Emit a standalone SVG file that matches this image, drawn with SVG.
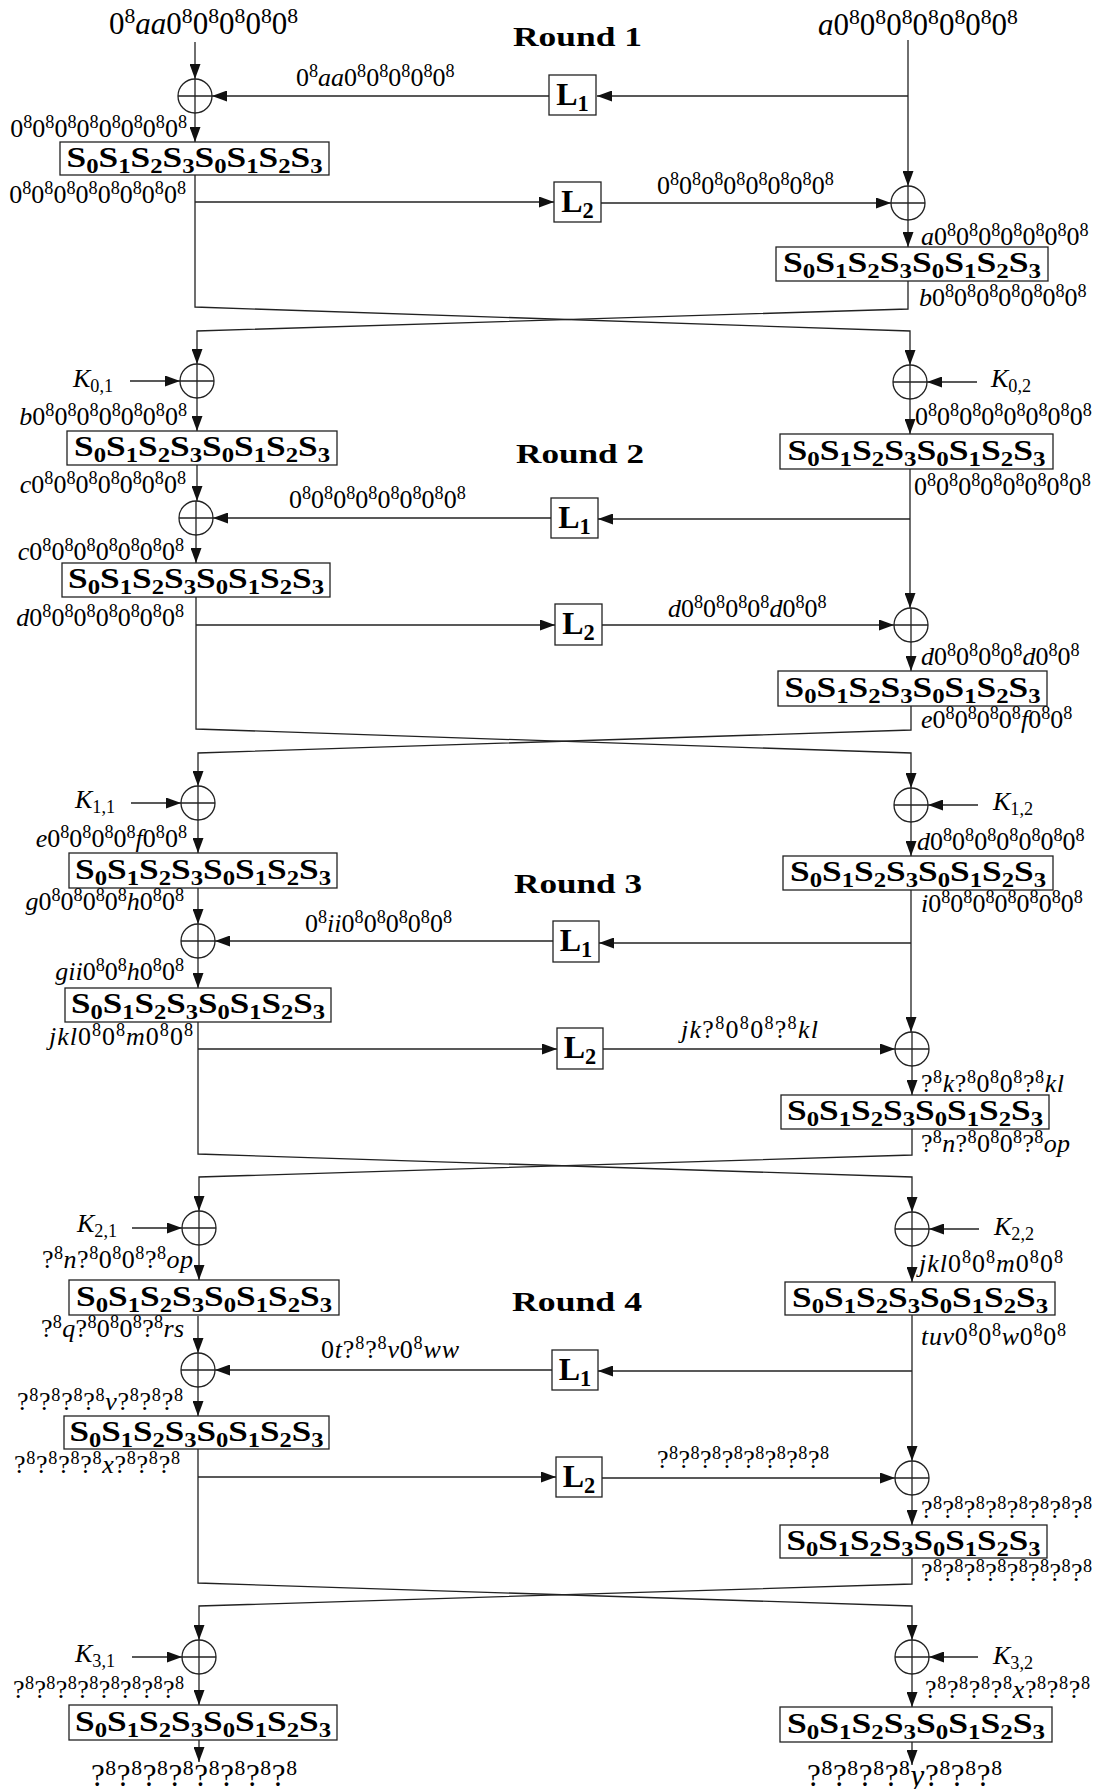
<svg xmlns="http://www.w3.org/2000/svg" xmlns:xlink="http://www.w3.org/1999/xlink" width="1106" height="1789" viewBox="0 0 1106 1789">
<style>
.ln{fill:none;stroke:#222;stroke-width:1.3;marker-end:url(#ah)}
.pl{fill:none;stroke:#222;stroke-width:1.3}
.bx{fill:none;stroke:#222;stroke-width:1.3}
.t{font-family:"Liberation Serif","Times New Roman",serif;fill:#000}
.lb{font-size:26px}
.bg{font-size:31px}
.e{text-anchor:end}
.s{font-size:70%;baseline-shift:0.5em}
.i{font-style:italic}
.sb{font-weight:bold;font-size:30px;text-anchor:middle}
.u{font-size:70%;baseline-shift:-0.28em}
.lx{font-weight:bold;font-size:32px;text-anchor:middle}
.ti{font-weight:bold;font-size:28px}
</style>
<defs>
<marker id="ah" viewBox="0 0 15 11" refX="15" refY="5.5" markerWidth="15" markerHeight="11" markerUnits="userSpaceOnUse" orient="auto"><path d="M0,0L15,5.5L0,11z" fill="#111"/></marker>
<g id="xorsym"><circle r="17" class="pl"/><path d="M-17,0H17M0,-17V17" class="pl"/></g>
</defs>

<!-- round titles -->
<g id="titles" class="t ti">
<text x="513" y="46" textLength="129" lengthAdjust="spacingAndGlyphs">Round 1</text>
<text x="516" y="463" textLength="128" lengthAdjust="spacingAndGlyphs">Round 2</text>
<text x="514" y="893" textLength="128" lengthAdjust="spacingAndGlyphs">Round 3</text>
<text x="512" y="1311" textLength="130" lengthAdjust="spacingAndGlyphs">Round 4</text>
</g>

<!-- connectors -->
<g id="connectors">
<!-- round 1 -->
<path class="ln" d="M195,42V79"/>
<path class="ln" d="M908,40V186"/>
<path class="ln" d="M908,96H597"/>
<path class="ln" d="M549,96H212"/>
<path class="ln" d="M195,113V142"/>
<path class="ln" d="M195,175V307L910,331V365"/>
<path class="ln" d="M195,202H554"/>
<path class="ln" d="M601,203H891"/>
<path class="ln" d="M908,220V247"/>
<path class="ln" d="M908,281V309L197,331V364"/>
<!-- round 2 -->
<path class="ln" d="M130,381H180"/>
<path class="ln" d="M977,382H927"/>
<path class="ln" d="M197,398V431"/>
<path class="ln" d="M197,465V501"/>
<path class="ln" d="M551,518H213"/>
<path class="ln" d="M196,535V563"/>
<path class="ln" d="M196,597V729L911,753V788"/>
<path class="ln" d="M196,625H555"/>
<path class="ln" d="M602,625H894"/>
<path class="ln" d="M910,399V434"/>
<path class="ln" d="M910,469V608"/>
<path class="ln" d="M910,519H598"/>
<path class="ln" d="M911,642V671"/>
<path class="ln" d="M911,706V730L198,753V786"/>
<!-- round 3 -->
<path class="ln" d="M131,803H181"/>
<path class="ln" d="M978,805H928"/>
<path class="ln" d="M198,820V853"/>
<path class="ln" d="M198,888V924"/>
<path class="ln" d="M553,941H215"/>
<path class="ln" d="M198,958V988"/>
<path class="ln" d="M198,1022V1154L912,1177V1212"/>
<path class="ln" d="M198,1049H557"/>
<path class="ln" d="M603,1049H895"/>
<path class="ln" d="M911,822V856"/>
<path class="ln" d="M911,890V1032"/>
<path class="ln" d="M911,943H599"/>
<path class="ln" d="M912,1066V1095"/>
<path class="ln" d="M912,1129V1155L199,1177V1211"/>
<!-- round 4 -->
<path class="ln" d="M132,1228H182"/>
<path class="ln" d="M979,1229H929"/>
<path class="ln" d="M199,1245V1280"/>
<path class="ln" d="M198,1316V1353"/>
<path class="ln" d="M552,1370H215"/>
<path class="ln" d="M198,1387V1416"/>
<path class="ln" d="M198,1449V1583L912,1606V1640"/>
<path class="ln" d="M198,1477H556"/>
<path class="ln" d="M602,1478H895"/>
<path class="ln" d="M912,1246V1282"/>
<path class="ln" d="M912,1315V1461"/>
<path class="ln" d="M912,1371H598"/>
<path class="ln" d="M912,1495V1525"/>
<path class="ln" d="M912,1558V1584L199,1606V1640"/>
<!-- final keys and outputs -->
<path class="ln" d="M132,1657H182"/>
<path class="ln" d="M978,1657H929"/>
<path class="ln" d="M199,1674V1705"/>
<path class="ln" d="M199,1740V1762"/>
<path class="ln" d="M912,1674V1707"/>
<path class="ln" d="M912,1742V1765"/>
</g>

<!-- xor nodes -->
<g id="xor1L"><use xlink:href="#xorsym" x="195" y="96"/></g>
<g id="xor1R"><use xlink:href="#xorsym" x="908" y="203"/></g>
<g id="xor2La"><use xlink:href="#xorsym" x="197" y="381"/></g>
<g id="xor2Lb"><use xlink:href="#xorsym" x="196" y="518"/></g>
<g id="xor2Ra"><use xlink:href="#xorsym" x="910" y="382"/></g>
<g id="xor2Rb"><use xlink:href="#xorsym" x="911" y="625"/></g>
<g id="xor3La"><use xlink:href="#xorsym" x="198" y="803"/></g>
<g id="xor3Lb"><use xlink:href="#xorsym" x="198" y="941"/></g>
<g id="xor3Ra"><use xlink:href="#xorsym" x="911" y="805"/></g>
<g id="xor3Rb"><use xlink:href="#xorsym" x="912" y="1049"/></g>
<g id="xor4La"><use xlink:href="#xorsym" x="199" y="1228"/></g>
<g id="xor4Lb"><use xlink:href="#xorsym" x="198" y="1370"/></g>
<g id="xor4Ra"><use xlink:href="#xorsym" x="912" y="1229"/></g>
<g id="xor4Rb"><use xlink:href="#xorsym" x="912" y="1478"/></g>
<g id="xor5L"><use xlink:href="#xorsym" x="199" y="1657"/></g>
<g id="xor5R"><use xlink:href="#xorsym" x="912" y="1657"/></g>

<!-- linear layers -->
<g id="L1r1"><rect class="bx" x="549" y="75" width="47" height="40"/><text class="t lx" x="572.5" y="105">L<tspan class="u">1</tspan></text></g>
<g id="L2r1"><rect class="bx" x="554" y="182" width="47" height="40"/><text class="t lx" x="577.5" y="212">L<tspan class="u">2</tspan></text></g>
<g id="L1r2"><rect class="bx" x="551" y="498" width="47" height="40"/><text class="t lx" x="574.5" y="528">L<tspan class="u">1</tspan></text></g>
<g id="L2r2"><rect class="bx" x="555" y="604" width="47" height="41"/><text class="t lx" x="578.5" y="634">L<tspan class="u">2</tspan></text></g>
<g id="L1r3"><rect class="bx" x="553" y="921" width="46" height="41"/><text class="t lx" x="576" y="951">L<tspan class="u">1</tspan></text></g>
<g id="L2r3"><rect class="bx" x="557" y="1028" width="46" height="41"/><text class="t lx" x="580" y="1058">L<tspan class="u">2</tspan></text></g>
<g id="L1r4"><rect class="bx" x="552" y="1350" width="46" height="40"/><text class="t lx" x="575" y="1380">L<tspan class="u">1</tspan></text></g>
<g id="L2r4"><rect class="bx" x="556" y="1457" width="46" height="40"/><text class="t lx" x="579" y="1487">L<tspan class="u">2</tspan></text></g>

<!-- s-box layers -->
<g id="S1L"><rect class="bx" x="60" y="142" width="269" height="33"/><text class="t sb" x="194.5" y="167" textLength="256" lengthAdjust="spacingAndGlyphs">S<tspan class="u">0</tspan>S<tspan class="u">1</tspan>S<tspan class="u">2</tspan>S<tspan class="u">3</tspan>S<tspan class="u">0</tspan>S<tspan class="u">1</tspan>S<tspan class="u">2</tspan>S<tspan class="u">3</tspan></text></g>
<g id="S1R"><rect class="bx" x="776" y="247" width="272" height="34"/><text class="t sb" x="912" y="272" textLength="258" lengthAdjust="spacingAndGlyphs">S<tspan class="u">0</tspan>S<tspan class="u">1</tspan>S<tspan class="u">2</tspan>S<tspan class="u">3</tspan>S<tspan class="u">0</tspan>S<tspan class="u">1</tspan>S<tspan class="u">2</tspan>S<tspan class="u">3</tspan></text></g>
<g id="S2La"><rect class="bx" x="67" y="431" width="270" height="34"/><text class="t sb" x="202" y="456" textLength="256" lengthAdjust="spacingAndGlyphs">S<tspan class="u">0</tspan>S<tspan class="u">1</tspan>S<tspan class="u">2</tspan>S<tspan class="u">3</tspan>S<tspan class="u">0</tspan>S<tspan class="u">1</tspan>S<tspan class="u">2</tspan>S<tspan class="u">3</tspan></text></g>
<g id="S2Lb"><rect class="bx" x="62" y="563" width="268" height="34"/><text class="t sb" x="196" y="588" textLength="256" lengthAdjust="spacingAndGlyphs">S<tspan class="u">0</tspan>S<tspan class="u">1</tspan>S<tspan class="u">2</tspan>S<tspan class="u">3</tspan>S<tspan class="u">0</tspan>S<tspan class="u">1</tspan>S<tspan class="u">2</tspan>S<tspan class="u">3</tspan></text></g>
<g id="S2Ra"><rect class="bx" x="780" y="434" width="273" height="35"/><text class="t sb" x="916.5" y="460" textLength="258" lengthAdjust="spacingAndGlyphs">S<tspan class="u">0</tspan>S<tspan class="u">1</tspan>S<tspan class="u">2</tspan>S<tspan class="u">3</tspan>S<tspan class="u">0</tspan>S<tspan class="u">1</tspan>S<tspan class="u">2</tspan>S<tspan class="u">3</tspan></text></g>
<g id="S2Rb"><rect class="bx" x="778" y="671" width="269" height="35"/><text class="t sb" x="912.5" y="697" textLength="256" lengthAdjust="spacingAndGlyphs">S<tspan class="u">0</tspan>S<tspan class="u">1</tspan>S<tspan class="u">2</tspan>S<tspan class="u">3</tspan>S<tspan class="u">0</tspan>S<tspan class="u">1</tspan>S<tspan class="u">2</tspan>S<tspan class="u">3</tspan></text></g>
<g id="S3La"><rect class="bx" x="69" y="853" width="268" height="35"/><text class="t sb" x="203" y="879" textLength="256" lengthAdjust="spacingAndGlyphs">S<tspan class="u">0</tspan>S<tspan class="u">1</tspan>S<tspan class="u">2</tspan>S<tspan class="u">3</tspan>S<tspan class="u">0</tspan>S<tspan class="u">1</tspan>S<tspan class="u">2</tspan>S<tspan class="u">3</tspan></text></g>
<g id="S3Lb"><rect class="bx" x="65" y="988" width="266" height="34"/><text class="t sb" x="198" y="1013" textLength="254" lengthAdjust="spacingAndGlyphs">S<tspan class="u">0</tspan>S<tspan class="u">1</tspan>S<tspan class="u">2</tspan>S<tspan class="u">3</tspan>S<tspan class="u">0</tspan>S<tspan class="u">1</tspan>S<tspan class="u">2</tspan>S<tspan class="u">3</tspan></text></g>
<g id="S3Ra"><rect class="bx" x="783" y="856" width="270" height="34"/><text class="t sb" x="918" y="881" textLength="256" lengthAdjust="spacingAndGlyphs">S<tspan class="u">0</tspan>S<tspan class="u">1</tspan>S<tspan class="u">2</tspan>S<tspan class="u">3</tspan>S<tspan class="u">0</tspan>S<tspan class="u">1</tspan>S<tspan class="u">2</tspan>S<tspan class="u">3</tspan></text></g>
<g id="S3Rb"><rect class="bx" x="781" y="1095" width="268" height="34"/><text class="t sb" x="915" y="1120" textLength="256" lengthAdjust="spacingAndGlyphs">S<tspan class="u">0</tspan>S<tspan class="u">1</tspan>S<tspan class="u">2</tspan>S<tspan class="u">3</tspan>S<tspan class="u">0</tspan>S<tspan class="u">1</tspan>S<tspan class="u">2</tspan>S<tspan class="u">3</tspan></text></g>
<g id="S4La"><rect class="bx" x="69" y="1280" width="270" height="35"/><text class="t sb" x="204" y="1306" textLength="256" lengthAdjust="spacingAndGlyphs">S<tspan class="u">0</tspan>S<tspan class="u">1</tspan>S<tspan class="u">2</tspan>S<tspan class="u">3</tspan>S<tspan class="u">0</tspan>S<tspan class="u">1</tspan>S<tspan class="u">2</tspan>S<tspan class="u">3</tspan></text></g>
<g id="S4Lb"><rect class="bx" x="64" y="1416" width="265" height="33"/><text class="t sb" x="196.5" y="1441" textLength="254" lengthAdjust="spacingAndGlyphs">S<tspan class="u">0</tspan>S<tspan class="u">1</tspan>S<tspan class="u">2</tspan>S<tspan class="u">3</tspan>S<tspan class="u">0</tspan>S<tspan class="u">1</tspan>S<tspan class="u">2</tspan>S<tspan class="u">3</tspan></text></g>
<g id="S4Ra"><rect class="bx" x="785" y="1282" width="270" height="33"/><text class="t sb" x="920" y="1307" textLength="256" lengthAdjust="spacingAndGlyphs">S<tspan class="u">0</tspan>S<tspan class="u">1</tspan>S<tspan class="u">2</tspan>S<tspan class="u">3</tspan>S<tspan class="u">0</tspan>S<tspan class="u">1</tspan>S<tspan class="u">2</tspan>S<tspan class="u">3</tspan></text></g>
<g id="S4Rb"><rect class="bx" x="780" y="1525" width="267" height="33"/><text class="t sb" x="913.5" y="1550" textLength="254" lengthAdjust="spacingAndGlyphs">S<tspan class="u">0</tspan>S<tspan class="u">1</tspan>S<tspan class="u">2</tspan>S<tspan class="u">3</tspan>S<tspan class="u">0</tspan>S<tspan class="u">1</tspan>S<tspan class="u">2</tspan>S<tspan class="u">3</tspan></text></g>
<g id="S5L"><rect class="bx" x="69" y="1705" width="268" height="35"/><text class="t sb" x="203" y="1731" textLength="256" lengthAdjust="spacingAndGlyphs">S<tspan class="u">0</tspan>S<tspan class="u">1</tspan>S<tspan class="u">2</tspan>S<tspan class="u">3</tspan>S<tspan class="u">0</tspan>S<tspan class="u">1</tspan>S<tspan class="u">2</tspan>S<tspan class="u">3</tspan></text></g>
<g id="S5R"><rect class="bx" x="780" y="1707" width="272" height="35"/><text class="t sb" x="916" y="1733" textLength="258" lengthAdjust="spacingAndGlyphs">S<tspan class="u">0</tspan>S<tspan class="u">1</tspan>S<tspan class="u">2</tspan>S<tspan class="u">3</tspan>S<tspan class="u">0</tspan>S<tspan class="u">1</tspan>S<tspan class="u">2</tspan>S<tspan class="u">3</tspan></text></g>

<!-- round keys -->
<g id="keys" class="t lb">
<text x="73" y="387"><tspan class="i">K</tspan><tspan class="u">0,1</tspan></text>
<text x="991" y="387"><tspan class="i">K</tspan><tspan class="u">0,2</tspan></text>
<text x="75" y="808"><tspan class="i">K</tspan><tspan class="u">1,1</tspan></text>
<text x="993" y="810"><tspan class="i">K</tspan><tspan class="u">1,2</tspan></text>
<text x="77" y="1232"><tspan class="i">K</tspan><tspan class="u">2,1</tspan></text>
<text x="994" y="1235"><tspan class="i">K</tspan><tspan class="u">2,2</tspan></text>
<text x="75" y="1662"><tspan class="i">K</tspan><tspan class="u">3,1</tspan></text>
<text x="993" y="1664"><tspan class="i">K</tspan><tspan class="u">3,2</tspan></text>
</g>

<!-- difference labels -->
<g id="labels" class="t lb">
<!-- round 1 -->
<text class="bg" x="109" y="34">0<tspan class="s">8</tspan><tspan class="i">aa</tspan>0<tspan class="s">8</tspan>0<tspan class="s">8</tspan>0<tspan class="s">8</tspan>0<tspan class="s">8</tspan>0<tspan class="s">8</tspan></text>
<text class="bg" x="818" y="35"><tspan class="i">a</tspan>0<tspan class="s">8</tspan>0<tspan class="s">8</tspan>0<tspan class="s">8</tspan>0<tspan class="s">8</tspan>0<tspan class="s">8</tspan>0<tspan class="s">8</tspan>0<tspan class="s">8</tspan></text>
<text x="296" y="86">0<tspan class="s">8</tspan><tspan class="i">aa</tspan>0<tspan class="s">8</tspan>0<tspan class="s">8</tspan>0<tspan class="s">8</tspan>0<tspan class="s">8</tspan>0<tspan class="s">8</tspan></text>
<text class="e" x="187" y="137">0<tspan class="s">8</tspan>0<tspan class="s">8</tspan>0<tspan class="s">8</tspan>0<tspan class="s">8</tspan>0<tspan class="s">8</tspan>0<tspan class="s">8</tspan>0<tspan class="s">8</tspan>0<tspan class="s">8</tspan></text>
<text class="e" x="186" y="203">0<tspan class="s">8</tspan>0<tspan class="s">8</tspan>0<tspan class="s">8</tspan>0<tspan class="s">8</tspan>0<tspan class="s">8</tspan>0<tspan class="s">8</tspan>0<tspan class="s">8</tspan>0<tspan class="s">8</tspan></text>
<text x="657" y="194">0<tspan class="s">8</tspan>0<tspan class="s">8</tspan>0<tspan class="s">8</tspan>0<tspan class="s">8</tspan>0<tspan class="s">8</tspan>0<tspan class="s">8</tspan>0<tspan class="s">8</tspan>0<tspan class="s">8</tspan></text>
<text x="921" y="245"><tspan class="i">a</tspan>0<tspan class="s">8</tspan>0<tspan class="s">8</tspan>0<tspan class="s">8</tspan>0<tspan class="s">8</tspan>0<tspan class="s">8</tspan>0<tspan class="s">8</tspan>0<tspan class="s">8</tspan></text>
<text x="919" y="306"><tspan class="i">b</tspan>0<tspan class="s">8</tspan>0<tspan class="s">8</tspan>0<tspan class="s">8</tspan>0<tspan class="s">8</tspan>0<tspan class="s">8</tspan>0<tspan class="s">8</tspan>0<tspan class="s">8</tspan></text>
<!-- round 2 -->
<text class="e" x="187" y="425"><tspan class="i">b</tspan>0<tspan class="s">8</tspan>0<tspan class="s">8</tspan>0<tspan class="s">8</tspan>0<tspan class="s">8</tspan>0<tspan class="s">8</tspan>0<tspan class="s">8</tspan>0<tspan class="s">8</tspan></text>
<text class="e" x="186" y="493"><tspan class="i">c</tspan>0<tspan class="s">8</tspan>0<tspan class="s">8</tspan>0<tspan class="s">8</tspan>0<tspan class="s">8</tspan>0<tspan class="s">8</tspan>0<tspan class="s">8</tspan>0<tspan class="s">8</tspan></text>
<text x="289" y="508">0<tspan class="s">8</tspan>0<tspan class="s">8</tspan>0<tspan class="s">8</tspan>0<tspan class="s">8</tspan>0<tspan class="s">8</tspan>0<tspan class="s">8</tspan>0<tspan class="s">8</tspan>0<tspan class="s">8</tspan></text>
<text class="e" x="184" y="560"><tspan class="i">c</tspan>0<tspan class="s">8</tspan>0<tspan class="s">8</tspan>0<tspan class="s">8</tspan>0<tspan class="s">8</tspan>0<tspan class="s">8</tspan>0<tspan class="s">8</tspan>0<tspan class="s">8</tspan></text>
<text class="e" x="184" y="626"><tspan class="i">d</tspan>0<tspan class="s">8</tspan>0<tspan class="s">8</tspan>0<tspan class="s">8</tspan>0<tspan class="s">8</tspan>0<tspan class="s">8</tspan>0<tspan class="s">8</tspan>0<tspan class="s">8</tspan></text>
<text x="668" y="617"><tspan class="i">d</tspan>0<tspan class="s">8</tspan>0<tspan class="s">8</tspan>0<tspan class="s">8</tspan>0<tspan class="s">8</tspan><tspan class="i">d</tspan>0<tspan class="s">8</tspan>0<tspan class="s">8</tspan></text>
<text x="915" y="425">0<tspan class="s">8</tspan>0<tspan class="s">8</tspan>0<tspan class="s">8</tspan>0<tspan class="s">8</tspan>0<tspan class="s">8</tspan>0<tspan class="s">8</tspan>0<tspan class="s">8</tspan>0<tspan class="s">8</tspan></text>
<text x="914" y="495">0<tspan class="s">8</tspan>0<tspan class="s">8</tspan>0<tspan class="s">8</tspan>0<tspan class="s">8</tspan>0<tspan class="s">8</tspan>0<tspan class="s">8</tspan>0<tspan class="s">8</tspan>0<tspan class="s">8</tspan></text>
<text x="921" y="665"><tspan class="i">d</tspan>0<tspan class="s">8</tspan>0<tspan class="s">8</tspan>0<tspan class="s">8</tspan>0<tspan class="s">8</tspan><tspan class="i">d</tspan>0<tspan class="s">8</tspan>0<tspan class="s">8</tspan></text>
<text x="921" y="728"><tspan class="i">e</tspan>0<tspan class="s">8</tspan>0<tspan class="s">8</tspan>0<tspan class="s">8</tspan>0<tspan class="s">8</tspan><tspan class="i">f</tspan>0<tspan class="s">8</tspan>0<tspan class="s">8</tspan></text>
<!-- round 3 -->
<text class="e" x="187" y="847"><tspan class="i">e</tspan>0<tspan class="s">8</tspan>0<tspan class="s">8</tspan>0<tspan class="s">8</tspan>0<tspan class="s">8</tspan><tspan class="i">f</tspan>0<tspan class="s">8</tspan>0<tspan class="s">8</tspan></text>
<text class="e" x="184" y="910"><tspan class="i">g</tspan>0<tspan class="s">8</tspan>0<tspan class="s">8</tspan>0<tspan class="s">8</tspan>0<tspan class="s">8</tspan><tspan class="i">h</tspan>0<tspan class="s">8</tspan>0<tspan class="s">8</tspan></text>
<text x="305" y="932">0<tspan class="s">8</tspan><tspan class="i">ii</tspan>0<tspan class="s">8</tspan>0<tspan class="s">8</tspan>0<tspan class="s">8</tspan>0<tspan class="s">8</tspan>0<tspan class="s">8</tspan></text>
<text class="e" x="184" y="980"><tspan class="i">gii</tspan>0<tspan class="s">8</tspan>0<tspan class="s">8</tspan><tspan class="i">h</tspan>0<tspan class="s">8</tspan>0<tspan class="s">8</tspan></text>
<text class="e" x="193" y="1045" textLength="144" lengthAdjust="spacing"><tspan class="i">jkl</tspan>0<tspan class="s">8</tspan>0<tspan class="s">8</tspan><tspan class="i">m</tspan>0<tspan class="s">8</tspan>0<tspan class="s">8</tspan></text>
<text x="681" y="1038" textLength="137" lengthAdjust="spacing"><tspan class="i">jk</tspan>?<tspan class="s">8</tspan>0<tspan class="s">8</tspan>0<tspan class="s">8</tspan>?<tspan class="s">8</tspan><tspan class="i">kl</tspan></text>
<text x="917" y="850"><tspan class="i">d</tspan>0<tspan class="s">8</tspan>0<tspan class="s">8</tspan>0<tspan class="s">8</tspan>0<tspan class="s">8</tspan>0<tspan class="s">8</tspan>0<tspan class="s">8</tspan>0<tspan class="s">8</tspan></text>
<text x="921" y="912"><tspan class="i">i</tspan>0<tspan class="s">8</tspan>0<tspan class="s">8</tspan>0<tspan class="s">8</tspan>0<tspan class="s">8</tspan>0<tspan class="s">8</tspan>0<tspan class="s">8</tspan>0<tspan class="s">8</tspan></text>
<text x="921" y="1092" textLength="143" lengthAdjust="spacing">?<tspan class="s">8</tspan><tspan class="i">k</tspan>?<tspan class="s">8</tspan>0<tspan class="s">8</tspan>0<tspan class="s">8</tspan>?<tspan class="s">8</tspan><tspan class="i">kl</tspan></text>
<text x="921" y="1152" textLength="149" lengthAdjust="spacing">?<tspan class="s">8</tspan><tspan class="i">n</tspan>?<tspan class="s">8</tspan>0<tspan class="s">8</tspan>0<tspan class="s">8</tspan>?<tspan class="s">8</tspan><tspan class="i">op</tspan></text>
<!-- round 4 -->
<text class="e" x="193" y="1268" textLength="151" lengthAdjust="spacing">?<tspan class="s">8</tspan><tspan class="i">n</tspan>?<tspan class="s">8</tspan>0<tspan class="s">8</tspan>0<tspan class="s">8</tspan>?<tspan class="s">8</tspan><tspan class="i">op</tspan></text>
<text class="e" x="184" y="1337" textLength="143" lengthAdjust="spacing">?<tspan class="s">8</tspan><tspan class="i">q</tspan>?<tspan class="s">8</tspan>0<tspan class="s">8</tspan>0<tspan class="s">8</tspan>?<tspan class="s">8</tspan><tspan class="i">rs</tspan></text>
<text x="321" y="1358" textLength="138" lengthAdjust="spacing">0<tspan class="i">t</tspan>?<tspan class="s">8</tspan>?<tspan class="s">8</tspan><tspan class="i">v</tspan>0<tspan class="s">8</tspan><tspan class="i">ww</tspan></text>
<text class="e" x="183" y="1410" textLength="166" lengthAdjust="spacing">?<tspan class="s">8</tspan>?<tspan class="s">8</tspan>?<tspan class="s">8</tspan>?<tspan class="s">8</tspan><tspan class="i">v</tspan>?<tspan class="s">8</tspan>?<tspan class="s">8</tspan>?<tspan class="s">8</tspan></text>
<text class="e" x="180" y="1473" textLength="166" lengthAdjust="spacing">?<tspan class="s">8</tspan>?<tspan class="s">8</tspan>?<tspan class="s">8</tspan>?<tspan class="s">8</tspan><tspan class="i">x</tspan>?<tspan class="s">8</tspan>?<tspan class="s">8</tspan>?<tspan class="s">8</tspan></text>
<text x="657" y="1468" textLength="172" lengthAdjust="spacing">?<tspan class="s">8</tspan>?<tspan class="s">8</tspan>?<tspan class="s">8</tspan>?<tspan class="s">8</tspan>?<tspan class="s">8</tspan>?<tspan class="s">8</tspan>?<tspan class="s">8</tspan>?<tspan class="s">8</tspan></text>
<text x="919" y="1272" textLength="144" lengthAdjust="spacing"><tspan class="i">jkl</tspan>0<tspan class="s">8</tspan>0<tspan class="s">8</tspan><tspan class="i">m</tspan>0<tspan class="s">8</tspan>0<tspan class="s">8</tspan></text>
<text x="921" y="1345" textLength="145" lengthAdjust="spacing"><tspan class="i">tuv</tspan>0<tspan class="s">8</tspan>0<tspan class="s">8</tspan><tspan class="i">w</tspan>0<tspan class="s">8</tspan>0<tspan class="s">8</tspan></text>
<text x="921" y="1518" textLength="171" lengthAdjust="spacing">?<tspan class="s">8</tspan>?<tspan class="s">8</tspan>?<tspan class="s">8</tspan>?<tspan class="s">8</tspan>?<tspan class="s">8</tspan>?<tspan class="s">8</tspan>?<tspan class="s">8</tspan>?<tspan class="s">8</tspan></text>
<text x="921" y="1581" textLength="171" lengthAdjust="spacing">?<tspan class="s">8</tspan>?<tspan class="s">8</tspan>?<tspan class="s">8</tspan>?<tspan class="s">8</tspan>?<tspan class="s">8</tspan>?<tspan class="s">8</tspan>?<tspan class="s">8</tspan>?<tspan class="s">8</tspan></text>
<!-- final -->
<text class="e" x="184" y="1698" textLength="171" lengthAdjust="spacing">?<tspan class="s">8</tspan>?<tspan class="s">8</tspan>?<tspan class="s">8</tspan>?<tspan class="s">8</tspan>?<tspan class="s">8</tspan>?<tspan class="s">8</tspan>?<tspan class="s">8</tspan>?<tspan class="s">8</tspan></text>
<text class="bg" x="91" y="1786" textLength="206" lengthAdjust="spacing">?<tspan class="s">8</tspan>?<tspan class="s">8</tspan>?<tspan class="s">8</tspan>?<tspan class="s">8</tspan>?<tspan class="s">8</tspan>?<tspan class="s">8</tspan>?<tspan class="s">8</tspan>?<tspan class="s">8</tspan></text>
<text x="925" y="1698" textLength="165" lengthAdjust="spacing">?<tspan class="s">8</tspan>?<tspan class="s">8</tspan>?<tspan class="s">8</tspan>?<tspan class="s">8</tspan><tspan class="i">x</tspan>?<tspan class="s">8</tspan>?<tspan class="s">8</tspan>?<tspan class="s">8</tspan></text>
<text class="bg" x="807" y="1786" textLength="195" lengthAdjust="spacing">?<tspan class="s">8</tspan>?<tspan class="s">8</tspan>?<tspan class="s">8</tspan>?<tspan class="s">8</tspan><tspan class="i">y</tspan>?<tspan class="s">8</tspan>?<tspan class="s">8</tspan>?<tspan class="s">8</tspan></text>
</g>
</svg>
